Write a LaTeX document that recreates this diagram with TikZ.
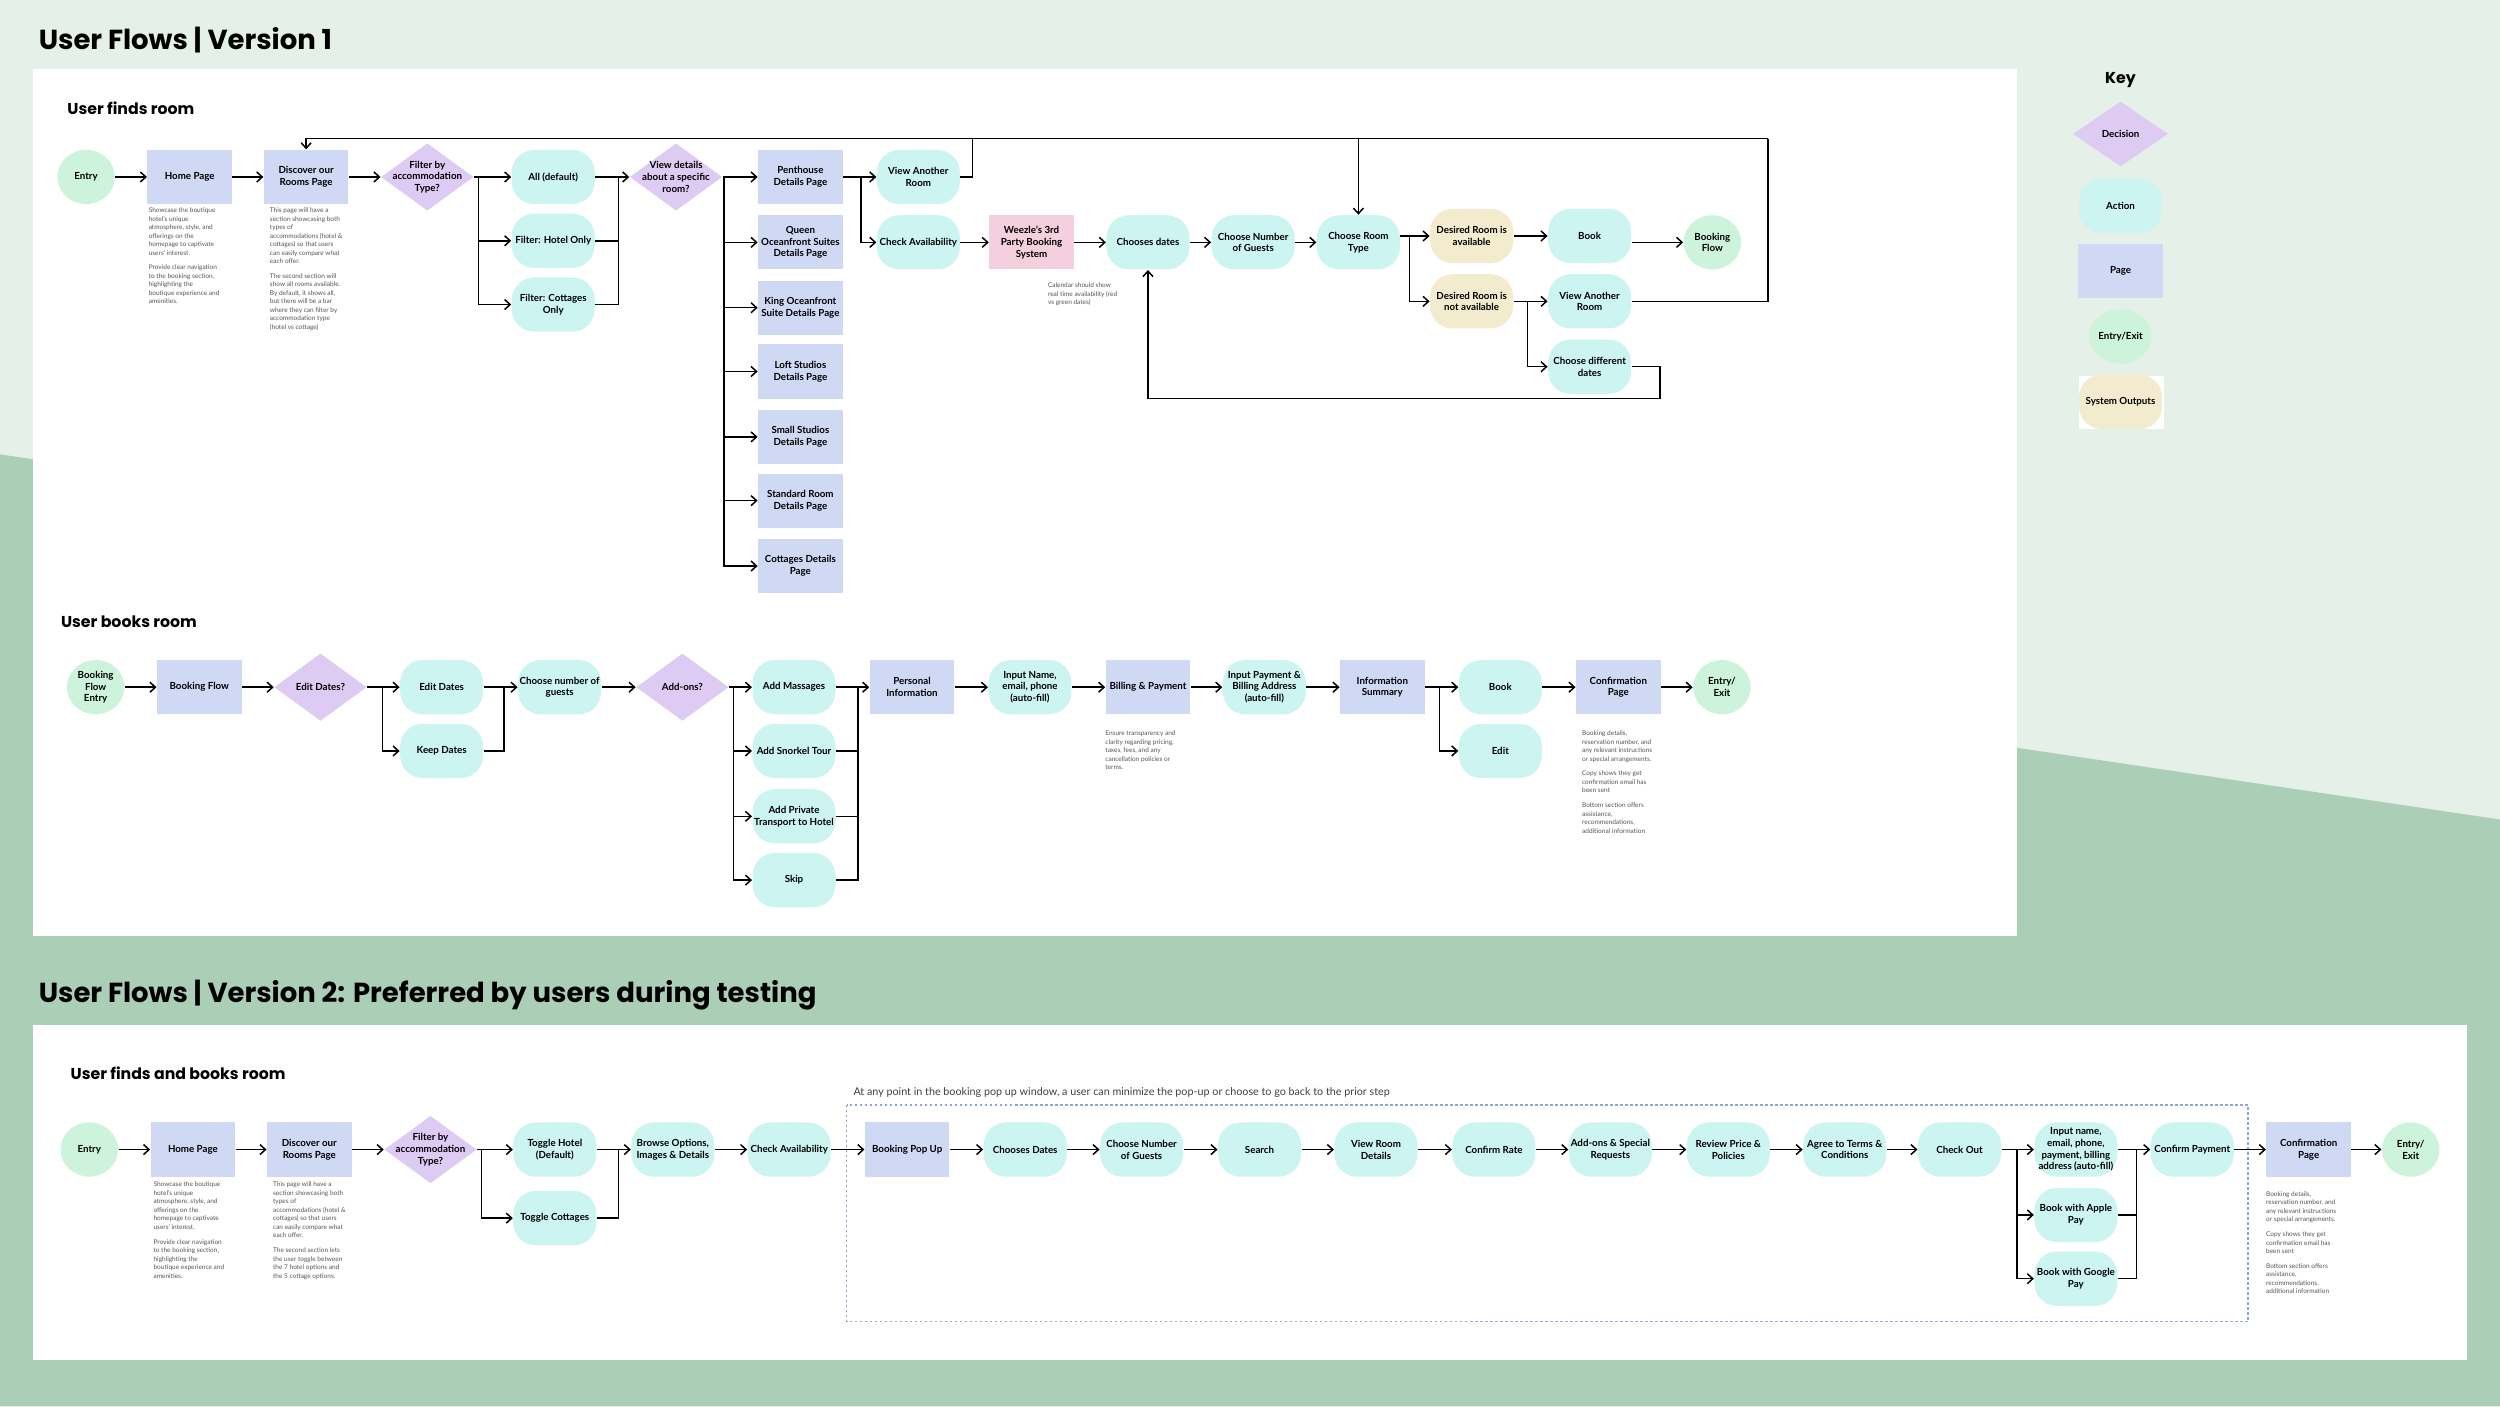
\documentclass[tikz,border=0pt]{standalone}
\usepackage{fontspec}
\setmainfont{Lato}
\newfontfamily\hdfont{Poppins}
\usetikzlibrary{shapes.geometric,arrows.meta}
\definecolor{bgl}{HTML}{E4F0E8}
\definecolor{bgd}{HTML}{ABCFB6}
\definecolor{cact}{HTML}{CCF4F1}
\definecolor{cpg}{HTML}{D0D9F4}
\definecolor{cdec}{HTML}{DECBF3}
\definecolor{cent}{HTML}{CEF3DC}
\definecolor{csys}{HTML}{F3EBCD}
\definecolor{cpink}{HTML}{F4CFDD}
\definecolor{cnote}{HTML}{555555}
\definecolor{cdash}{HTML}{8FA8D0}
\newcommand\nodefont{\fontsize{3.9}{4.7}\selectfont\bfseries}
\newcommand\notefont{\fontsize{2.6}{3.4}\selectfont}
\begin{document}
\begin{tikzpicture}[x=0.6376pt,y=-0.6376pt,
 base/.style={draw=none,align=center,font=\nodefont,inner sep=0.5pt},
 act/.style={base,fill=cact,rounded corners=9pt,minimum width=33.2pt,minimum height=21.7pt},
 sys/.style={act,fill=csys},
 pg/.style={base,fill=cpg,minimum width=33.8pt,minimum height=21.7pt},
 pink/.style={pg,fill=cpink},
 ent/.style={base,ellipse,fill=cent,minimum width=23pt,minimum height=21.7pt,inner sep=0pt},
 dec/.style={diamond,fill=cdec,minimum width=37pt,minimum height=27pt,inner sep=0pt,font=\nodefont,label={[align=center,font=\nodefont]center:#1}},
 note/.style={anchor=north west,align=left,font=\notefont,text=cnote,inner sep=0pt},
 ln/.style={draw=black,line width=0.6pt},
 arr/.style={ln,-{Straight Barb[length=2.2pt,width=4pt]}},
 h1/.style={anchor=west,font=\hdfont\bfseries\fontsize{11}{13}\selectfont,inner sep=0pt},
 h2/.style={anchor=west,font=\hdfont\bfseries\fontsize{6.3}{7.5}\selectfont,inner sep=0pt}]
\useasboundingbox (0,0) rectangle (1568,882);
\fill[bgl] (0,0) rectangle (1568,882);
\fill[bgd] (0,285) -- (1265,469) -- (1568,514) -- (1568,882) -- (0,882) -- cycle;
\fill[white] (21,43) rectangle (1265,587);
\fill[white] (21,643) rectangle (1547,853);
\node[h1] (t1) at (24,25) {User Flows | Version 1};
\node[h1] (t2) at (24,624) {User Flows | Version 2: Preferred by users during testing};
\node[h2] (s1) at (42,68) {User finds room};
\node[h2] (s2) at (38,390) {User books room};
\node[h2] (s3) at (44,673) {User finds and books room};

% Key
\node[h2,anchor=center] (key) at (1330,50) {Key};
\fill[white] (1304,236) rectangle (1357,269);
\node[dec={Decision},minimum width=38pt,minimum height=26pt] (kd) at (1330,84) {};
\node[act] (ka) at (1330,129) {Action};
\node[pg] (kp) at (1330,170) {Page};
\node[ent] (ke) at (1330,211) {Entry/Exit};
\node[sys] (ks) at (1330,252) {System Outputs};

% ===== Section 1 =====
\node[ent] (e1) at (54,111) {Entry};
\node[pg] (hp1) at (119,111) {Home Page};
\node[pg] (dr1) at (192,111) {Discover our\\Rooms Page};
\node[dec={Filter by\\accommodation\\Type?}] (fd1) at (268,111) {};
\node[act] (all) at (347,111) {All (default)};
\node[act] (fho) at (347,151) {Filter: Hotel Only};
\node[act] (fco) at (347,191) {Filter: Cottages\\Only};
\node[dec={View details\\about a specific\\room?}] (vd) at (424,111) {};
\node[pg] (p1) at (502,111) {Penthouse\\Details Page};
\node[pg] (p2) at (502,152) {Queen\\Oceanfront Suites\\Details Page};
\node[pg] (p3) at (502,193) {King Oceanfront\\Suite Details Page};
\node[pg] (p4) at (502,233) {Loft Studios\\Details Page};
\node[pg] (p5) at (502,274) {Small Studios\\Details Page};
\node[pg] (p6) at (502,314) {Standard Room\\Details Page};
\node[pg] (p7) at (502,355) {Cottages Details\\Page};
\node[act] (va1) at (576,111) {View Another\\Room};
\node[act] (ca1) at (576,152) {Check Availability};
\node[pink] (wz) at (647,152) {Weezle's 3rd\\Party Booking\\System};
\node[act] (cd) at (720,152) {Chooses dates};
\node[act] (cng) at (786,152) {Choose Number\\of Guests};
\node[act] (crt) at (852,152) {Choose Room\\Type};
\node[sys] (dav) at (923,148) {Desired Room is\\available};
\node[sys] (dna) at (923,189) {Desired Room is\\not available};
\node[act] (bk1) at (997,148) {Book};
\node[act] (va2) at (997,189) {View Another\\Room};
\node[act] (cdd) at (997,230) {Choose different\\dates};
\node[ent] (bf) at (1074,152) {Booking\\Flow};

\node[note] (n1) at (93,130) {Showcase the boutique\\hotel's unique\\atmosphere, style, and\\offerings on the\\homepage to captivate\\users' interest.\\[2.5pt]Provide clear navigation\\to the booking section,\\highlighting the\\boutique experience and\\amenities.};
\node[note] (n2) at (169,130) {This page will have a\\section showcasing both\\types of\\accommodations (hotel \&\\cottages) so that users\\can easily compare what\\each offer.\\[2.5pt]The second section will\\show all rooms available.\\By default, it shows all,\\but there will be a bar\\where they can filter by\\accommodation type\\(hotel vs cottage)};
\node[note] (n3) at (657,177) {Calendar should show\\real time availability (red\\vs green dates)};

\draw[arr] (e1) -- (hp1);
\draw[arr] (hp1) -- (dr1);
\draw[arr] (dr1) -- (fd1);
\coordinate (b1) at (300,111);
\draw[arr] (fd1) -- (all);
\draw[arr] (b1) |- (fho);
\draw[arr] (b1) |- (fco);
\coordinate (m1) at (388,111);
\draw[ln] (fho.east) -| (m1);
\draw[ln] (fco.east) -| (m1);
\draw[arr] (all) -- (vd);
\coordinate (b2) at (454,111);
\draw[arr] (vd) -- (p1);
\foreach \p in {p2,p3,p4,p5,p6,p7} \draw[arr] (b2) |- (\p);
\coordinate (b3) at (540,111);
\draw[arr] (p1) -- (va1);
\draw[arr] (b3) |- (ca1);
\coordinate (lt1) at (610,87);
\coordinate (lt2) at (1109,87);
\draw[ln] (va1.east) -| (lt1);
\draw[ln] (lt1) -- (lt2);
\draw[arr] (lt1) -| (dr1.north);
\draw[arr] (crt.north |- lt1) -- (crt.north);
\draw[ln] (va2.east) -| (lt2);
\draw[arr] (ca1) -- (wz);
\draw[arr] (wz) -- (cd);
\draw[arr] (cd) -- (cng);
\draw[arr] (cng) -- (crt);
\coordinate (b4) at (884,148);
\draw[arr] (crt.east |- b4) -- (dav);
\draw[arr] (b4) |- (dna);
\draw[arr] (dav) -- (bk1);
\draw[arr] (bk1.east |- bf) -- (bf);
\coordinate (b5) at (958,189);
\draw[arr] (dna) -- (va2);
\draw[arr] (b5) |- (cdd);
\coordinate (l1) at (1041,250);
\draw[arr] (cdd.east) -| (l1) -| (cd.south);

% ===== Section 2 =====
\node[ent] (e2) at (60,431) {Booking\\Flow\\Entry};
\node[pg] (bfp) at (125,431) {Booking Flow};
\node[dec={Edit Dates?}] (ed) at (201,431) {};
\node[act] (edt) at (277,431) {Edit Dates};
\node[act] (kdt) at (277,471) {Keep Dates};
\node[act] (cng2) at (351,431) {Choose number of\\guests};
\node[dec={Add-ons?}] (ao) at (428,431) {};
\node[act] (am) at (498,431) {Add Massages};
\node[act] (ast) at (498,471) {Add Snorkel Tour};
\node[act] (apt) at (498,512) {Add Private\\Transport to Hotel};
\node[act] (skp) at (498,552) {Skip};
\node[pg] (pi) at (572,431) {Personal\\Information};
\node[act] (inm) at (646,431) {Input Name,\\email, phone\\(auto-fill)};
\node[pg] (bp) at (720,431) {Billing \& Payment};
\node[act] (ipb) at (793,431) {Input Payment \&\\Billing Address\\(auto-fill)};
\node[pg] (isu) at (867,431) {Information\\Summary};
\node[act] (bk2) at (941,431) {Book};
\node[act] (edi) at (941,471) {Edit};
\node[pg] (cp2) at (1015,431) {Confirmation\\Page};
\node[ent] (ex2) at (1080,431) {Entry/\\Exit};

\node[note] (n4) at (693,458) {Ensure transparency and\\clarity regarding pricing,\\taxes, fees, and any\\cancellation policies or\\terms.};
\node[note] (n5) at (992,458) {Booking details,\\reservation number, and\\any relevant instructions\\or special arrangements.\\[2.5pt]Copy shows they get\\confirmation email has\\been sent\\[2.5pt]Bottom section offers\\assistance,\\recommendations,\\additional information};

\draw[arr] (e2) -- (bfp);
\draw[arr] (bfp) -- (ed);
\coordinate (b6) at (240,431);
\draw[arr] (ed) -- (edt);
\draw[arr] (b6) |- (kdt);
\coordinate (m6) at (316,431);
\draw[ln] (kdt.east) -| (m6);
\draw[arr] (edt) -- (cng2);
\draw[arr] (cng2) -- (ao);
\coordinate (b7) at (460,431);
\draw[arr] (ao) -- (am);
\foreach \p in {ast,apt,skp} \draw[arr] (b7) |- (\p);
\coordinate (m7) at (538,431);
\foreach \p in {ast,apt,skp} \draw[ln] (\p.east) -| (m7);
\draw[arr] (am) -- (pi);
\draw[arr] (pi) -- (inm);
\draw[arr] (inm) -- (bp);
\draw[arr] (bp) -- (ipb);
\draw[arr] (ipb) -- (isu);
\coordinate (b8) at (903,431);
\draw[arr] (isu) -- (bk2);
\draw[arr] (b8) |- (edi);
\draw[arr] (bk2) -- (cp2);
\draw[arr] (cp2) -- (ex2);

% ===== Section 3 =====
\draw[cdash,line width=0.5pt,dash pattern=on 1pt off 1pt] (531,693) rectangle (1410,829);
\node[anchor=west,font=\fontsize{4.3}{5}\selectfont,text=black!75,inner sep=0pt] (pop) at (535,685) {At any point in the booking pop up window, a user can minimize the pop-up or choose to go back to the prior step};
\node[ent] (e3) at (56,721) {Entry};
\node[pg] (hp3) at (121,721) {Home Page};
\node[pg] (dr3) at (194,721) {Discover our\\Rooms Page};
\node[dec={Filter by\\accommodation\\Type?}] (fd3) at (270,721) {};
\node[act] (th) at (348,721) {Toggle Hotel\\(Default)};
\node[act] (tc) at (348,764) {Toggle Cottages};
\node[act] (bo) at (422,721) {Browse Options,\\Images \& Details};
\node[act] (ca3) at (495,721) {Check Availability};
\node[pg] (bpu) at (569,721) {Booking Pop Up};
\node[act] (cd3) at (643,721) {Chooses Dates};
\node[act] (cg3) at (716,721) {Choose Number\\of Guests};
\node[act] (se) at (790,721) {Search};
\node[act] (vrd) at (863,721) {View Room\\Details};
\node[act] (cr) at (937,721) {Confirm Rate};
\node[act] (asr) at (1010,721) {Add-ons \& Special\\Requests};
\node[act] (rpp) at (1084,721) {Review Price \&\\Policies};
\node[act] (atc) at (1157,721) {Agree to Terms \&\\Conditions};
\node[act] (co) at (1229,721) {Check Out};
\node[act] (ine) at (1302,721) {Input name,\\email, phone,\\payment, billing\\address (auto-fill)};
\node[act] (bap) at (1302,762) {Book with Apple\\Pay};
\node[act] (bgp) at (1302,802) {Book with Google\\Pay};
\node[act] (cpy) at (1375,721) {Confirm Payment};
\node[pg] (cp3) at (1448,721) {Confirmation\\Page};
\node[ent] (ex3) at (1512,721) {Entry/\\Exit};

\node[note] (n6) at (96,741) {Showcase the boutique\\hotel's unique\\atmosphere, style, and\\offerings on the\\homepage to captivate\\users' interest.\\[2.5pt]Provide clear navigation\\to the booking section,\\highlighting the\\boutique experience and\\amenities.};
\node[note] (n7) at (171,741) {This page will have a\\section showcasing both\\types of\\accommodations (hotel \&\\cottages) so that users\\can easily compare what\\each offer.\\[2.5pt]The second section lets\\the user toggle between\\the 7 hotel options and\\the 5 cottage options.};
\node[note] (n8) at (1421,747) {Booking details,\\reservation number, and\\any relevant instructions\\or special arrangements.\\[2.5pt]Copy shows they get\\confirmation email has\\been sent\\[2.5pt]Bottom section offers\\assistance,\\recommendations,\\additional information};

\draw[arr] (e3) -- (hp3);
\draw[arr] (hp3) -- (dr3);
\draw[arr] (dr3) -- (fd3);
\coordinate (b9) at (302,721);
\draw[arr] (fd3) -- (th);
\draw[arr] (b9) |- (tc);
\coordinate (m9) at (388,721);
\draw[ln] (tc.east) -| (m9);
\draw[arr] (th) -- (bo);
\draw[arr] (bo) -- (ca3);
\draw[arr] (ca3) -- (bpu);
\draw[arr] (bpu) -- (cd3);
\draw[arr] (cd3) -- (cg3);
\draw[arr] (cg3) -- (se);
\draw[arr] (se) -- (vrd);
\draw[arr] (vrd) -- (cr);
\draw[arr] (cr) -- (asr);
\draw[arr] (asr) -- (rpp);
\draw[arr] (rpp) -- (atc);
\draw[arr] (atc) -- (co);
\coordinate (b10) at (1265,721);
\draw[arr] (co) -- (ine);
\draw[arr] (b10) |- (bap);
\draw[arr] (b10) |- (bgp);
\coordinate (m10) at (1340,721);
\draw[ln] (bap.east) -| (m10);
\draw[ln] (bgp.east) -| (m10);
\draw[arr] (ine) -- (cpy);
\draw[arr] (cpy) -- (cp3);
\draw[arr] (cp3) -- (ex3);
\end{tikzpicture}
\end{document}
